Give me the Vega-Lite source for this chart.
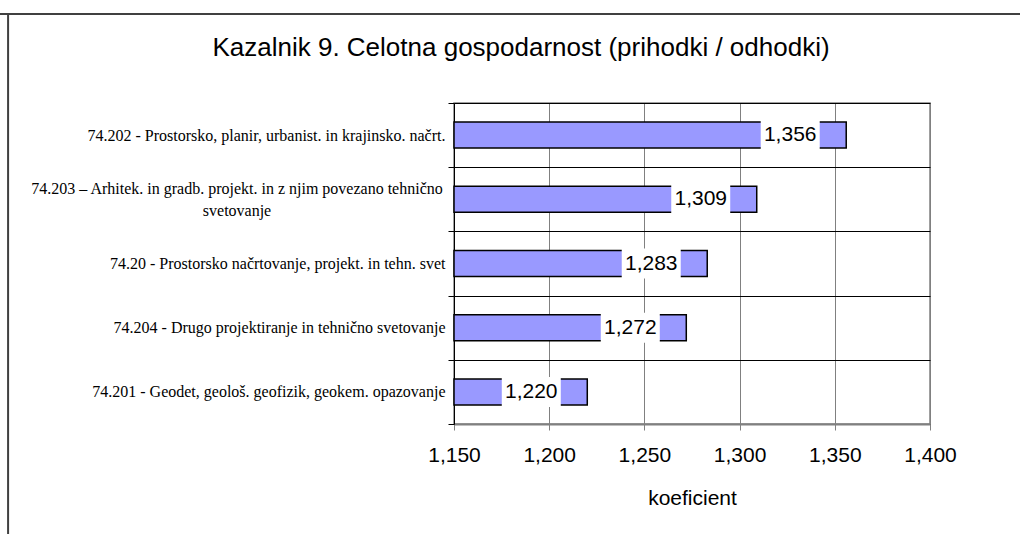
{
  "$schema": "https://vega.github.io/schema/vega-lite/v6.json",
  "width": 476,
  "height": 321,
  "autosize": {"type": "none"},
  "padding": {"left": 454, "top": 103, "right": 90, "bottom": 110},
  "background": "white",
  "config": {
    "locale": {"number": {"decimal": ",", "thousands": ".", "grouping": [3], "currency": ["", " €"]}},
    "view": {"stroke": "#808080", "strokeWidth": 1.5},
    "font": "Liberation Sans"
  },
  "title": {
    "text": "Kazalnik 9. Celotna gospodarnost (prihodki / odhodki)",
    "font": "Liberation Sans",
    "fontSize": 26,
    "fontWeight": "normal",
    "color": "black",
    "anchor": "middle",
    "frame": "group",
    "baseline": "alphabetic",
    "dx": -171,
    "dy": 116,
    "offset": 47
  },
  "data": {
    "values": [
      {"dejavnost": "74.202 - Prostorsko, planir, urbanist. in krajinsko. načrt.", "koeficient": 1.356},
      {"dejavnost": "74.203 – Arhitek. in gradb. projekt. in z njim povezano tehnično\nsvetovanje", "koeficient": 1.309},
      {"dejavnost": "74.20 - Prostorsko načrtovanje, projekt. in tehn. svet", "koeficient": 1.283},
      {"dejavnost": "74.204 - Drugo projektiranje in tehnično svetovanje", "koeficient": 1.272},
      {"dejavnost": "74.201 - Geodet, geološ. geofizik, geokem. opazovanje", "koeficient": 1.220}
    ]
  },
  "layer": [
    {
      "data": {"values": [{}]},
      "layer": [
        {
          "mark": {"type": "rule", "color": "#404040", "strokeWidth": 2},
          "encoding": {
            "x": {"datum": 0.9158, "type": "quantitative", "scale": {"domain": [1.15, 1.4], "nice": false, "zero": false}},
            "y": {"datum": -0.4, "type": "quantitative", "scale": {"domain": [0, 1], "nice": false, "zero": false}, "axis": null},
            "y2": {"datum": 1.2773}
          }
        },
        {
          "mark": {"type": "rule", "color": "#404040", "strokeWidth": 2},
          "encoding": {
            "x": {"datum": 0.9075, "type": "quantitative", "scale": {"domain": [1.15, 1.4], "nice": false, "zero": false}},
            "x2": {"datum": 1.47},
            "y": {"datum": 1.2773, "type": "quantitative", "scale": {"domain": [0, 1], "nice": false, "zero": false}, "axis": null}
          }
        }
      ]
    },
    {
      "layer": [
        {
          "mark": {"type": "bar", "fill": "#9999FF", "stroke": "black", "strokeWidth": 1.5, "size": 26},
          "encoding": {
            "y": {
              "field": "dejavnost",
              "type": "nominal",
              "sort": null,
              "scale": {"paddingInner": 0, "paddingOuter": 0},
              "axis": {
                "title": null,
                "tickBand": "extent",
                "grid": true,
                "gridColor": "black",
                "gridWidth": 1,
                "gridOpacity": 1,
                "domainColor": "black",
                "domainWidth": 1,
                "tickColor": "black",
                "tickSize": 6,
                "labelFont": "Liberation Serif",
                "labelFontSize": 16,
                "labelColor": "black",
                "labelLimit": 0,
                "labelPadding": 3,
                "labelExpr": "datum.value == '74.203 – Arhitek. in gradb. projekt. in z njim povezano tehnično\\nsvetovanje' ? '' : datum.value"
              }
            },
            "x": {
              "field": "koeficient",
              "type": "quantitative",
              "scale": {"domain": [1.15, 1.4], "nice": false, "zero": false},
              "axis": {
                "title": "koeficient",
                "titleFont": "Liberation Sans",
                "titleFontSize": 21,
                "titleFontWeight": "normal",
                "titleColor": "black",
                "titlePadding": 22,
                "values": [1.15, 1.2, 1.25, 1.3, 1.35, 1.4],
                "format": ".3f",
                "labelFont": "Liberation Sans",
                "labelFontSize": 21,
                "labelColor": "black",
                "labelPadding": 14,
                "labelFlush": false,
                "grid": true,
                "gridColor": "#808080",
                "gridOpacity": 1,
                "tickColor": "#808080",
                "tickSize": 6,
                "domainColor": "#808080",
                "domainWidth": 2
              }
            },
            "x2": {"datum": 1.15}
          }
        },
        {
          "mark": {"type": "point", "shape": "M-5.7,-1L-1.767,-1L-1.767,1L-5.7,1Z", "size": 900, "filled": true, "fill": "white", "opacity": 1, "strokeWidth": 0},
          "encoding": {
            "y": {"field": "dejavnost", "type": "nominal", "sort": null},
            "x": {"field": "koeficient", "type": "quantitative"}
          }
        },
        {
          "mark": {"type": "text", "dx": -56, "align": "center", "baseline": "middle", "fontSize": 21, "font": "Liberation Sans", "color": "black"},
          "encoding": {
            "y": {"field": "dejavnost", "type": "nominal", "sort": null},
            "x": {"field": "koeficient", "type": "quantitative"},
            "text": {"field": "koeficient", "type": "quantitative", "format": ".3f"}
          }
        },
        {
          "transform": [{"filter": "datum.koeficient == 1.309"}],
          "mark": {"type": "text", "dx": -217, "dy": -10, "align": "center", "baseline": "middle", "lineBreak": "\n", "lineHeight": 22, "fontSize": 16, "font": "Liberation Serif", "color": "black"},
          "encoding": {
            "y": {"field": "dejavnost", "type": "nominal", "sort": null},
            "x": {"datum": 1.15, "type": "quantitative"},
            "text": {"field": "dejavnost", "type": "nominal"}
          }
        }
      ]
    }
  ],
  "resolve": {"scale": {"y": "independent"}, "axis": {"y": "independent"}}
}
